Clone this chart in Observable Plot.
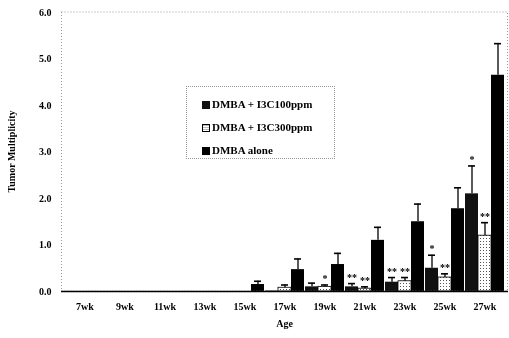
<!DOCTYPE html>
<html>
<head>
<meta charset="utf-8">
<script src="https://cdn.jsdelivr.net/npm/d3@7"></script>
<script src="https://cdn.jsdelivr.net/npm/@observablehq/plot@0.6"></script>
<style>
  html, body { margin: 0; padding: 0; background: #fff; }
  #wrap { position: relative; width: 509px; height: 338px; filter: grayscale(1); }
  .legend { position: absolute; left: 186px; top: 86px; width: 149px; height: 73px;
            border: 1px dotted #999; box-sizing: border-box;
            font-family: "Liberation Serif", serif; font-weight: bold; font-size: 11px; color: #000; }
  .legend .item { position: absolute; left: 15px; height: 12px; line-height: 12px; white-space: nowrap; }
  .legend .sw { display: inline-block; width: 8px; height: 8px; vertical-align: -1px; margin-right: 2px; box-sizing: border-box; }
</style>
</head>
<body>
<div id="wrap"></div>
<script>
// ---- data ----
const weeks    = ["7wk","9wk","11wk","13wk","15wk","17wk","19wk","21wk","23wk","25wk","27wk"];
const seriesNames = ["DMBA + I3C100ppm", "DMBA + I3C300ppm", "DMBA alone"];
const i3c100   = [0, 0, 0, 0, 0, 0.01, 0.10, 0.10, 0.20, 0.50, 2.10];
const err100   = [0, 0, 0, 0, 0, 0,    0.08, 0.07, 0.10, 0.28, 0.60];
const i3c300   = [0, 0, 0, 0, 0, 0.08, 0.10, 0.06, 0.22, 0.30, 1.20];
const err300   = [0, 0, 0, 0, 0, 0.06, 0.04, 0.04, 0.08, 0.08, 0.28];
const alone    = [0, 0, 0, 0, 0.15, 0.47, 0.58, 1.10, 1.50, 1.78, 4.65];
const errAlone = [0, 0, 0, 0, 0.07, 0.23, 0.24, 0.28, 0.38, 0.45, 0.68];
const sig100   = ["", "", "", "", "", "", "",  "**", "**", "*",  "*"];
const sig300   = ["", "", "", "", "", "", "*", "**", "**", "**", "**"];
const sigAlone = ["", "", "", "", "", "", "",  "",   "",   "",   ""];
const yTicks   = [0, 1, 2, 3, 4, 5, 6];
const yTitle   = "Tumor Multiplicity";
const xTitle   = "Age";

// ---- styles ----
const fills   = {"DMBA + I3C100ppm": "#111", "DMBA + I3C300ppm": "url(#stip)", "DMBA alone": "#000"};
const strokes = {"DMBA + I3C100ppm": "none", "DMBA + I3C300ppm": "#000", "DMBA alone": "none"};

const valueSets = [[i3c100, err100, sig100], [i3c300, err300, sig300], [alone, errAlone, sigAlone]];
const rows = [];
weeks.forEach((w, i) => {
  seriesNames.forEach((s, j) => {
    const [v, e, g] = valueSets[j];
    rows.push({week: w, series: s, value: v[i], err: e[i], sig: g[i]});
  });
});

const W = 509, H = 338, mL = 61, mR = 1, mT = 12, mB = 47;

const chart = Plot.plot({
  width: W, height: H,
  marginLeft: mL, marginRight: mR, marginTop: mT, marginBottom: mB,
  style: {fontFamily: "'Liberation Serif', serif", fontSize: "10px", fontWeight: "bold", background: "#fff", color: "#000"},
  facet: {data: rows, x: "week"},
  fx: {domain: weeks, paddingInner: 0.03, paddingOuter: 0, label: null, tickSize: 0, tickPadding: 11},
  x: {domain: seriesNames, padding: 0, axis: null},
  y: {domain: [0, 6], ticks: yTicks, tickFormat: d3.format(".1f"), tickSize: 0, tickPadding: 14, label: null},
  color: {type: "identity"},
  marks: [
    Plot.barY(rows, {x: "series", y: "value", fill: d => fills[d.series], stroke: d => strokes[d.series], strokeWidth: 0.8}),
    Plot.ruleX(rows, {filter: d => d.err > 0, x: "series", y1: "value", y2: d => d.value + d.err, stroke: "#000", strokeWidth: 1.3}),
    Plot.tickY(rows, {filter: d => d.err > 0, x: "series", y: d => d.value + d.err, stroke: "#000", strokeWidth: 1.6, insetLeft: 3, insetRight: 3}),
    Plot.text(rows, {filter: d => d.sig !== "", x: "series", y: d => d.value + d.err, text: "sig", dy: -6,
                     fontSize: 10, fontWeight: "bold", fill: "#000"})
  ]
});

// pattern + frame + axis titles
const svg = d3.select(chart.tagName.toLowerCase() === "svg" ? chart : chart.querySelector("svg"));
const defs = svg.insert("defs", ":first-child");
const pat = defs.append("pattern").attr("id", "stip").attr("patternUnits", "userSpaceOnUse")
  .attr("width", 3).attr("height", 3);
pat.append("rect").attr("width", 3).attr("height", 3).attr("fill", "#fff");
pat.append("rect").attr("x", 1).attr("y", 1).attr("width", 1).attr("height", 1).attr("fill", "#555");

const ys = chart.scale("y");
const yTop = ys.apply(6), yBot = ys.apply(0);
svg.append("rect").attr("x", mL + 0.5).attr("y", yTop).attr("width", W - mL - mR - 1).attr("height", yBot - yTop)
  .attr("fill", "none").attr("stroke", "#999").attr("stroke-dasharray", "1,2");
svg.append("line").attr("x1", mL).attr("x2", W - mR).attr("y1", yBot + 0.5).attr("y2", yBot + 0.5)
  .attr("stroke", "#000").attr("stroke-width", 1.5);
svg.append("text").attr("transform", `translate(15,${(yTop + yBot) / 2}) rotate(-90)`)
  .attr("text-anchor", "middle").attr("font-size", 10).attr("font-weight", "bold").attr("fill", "#000").text(yTitle);
svg.append("text").attr("x", (mL + W - mR) / 2).attr("y", 327)
  .attr("text-anchor", "middle").attr("font-size", 10).attr("font-weight", "bold").attr("fill", "#000").text(xTitle);

const wrap = document.getElementById("wrap");
wrap.appendChild(chart);

// legend (inside plot area, as in the reference)
const leg = document.createElement("div");
leg.className = "legend";
const swStyles = [
  "background:#111;",
  "background: repeating-linear-gradient(0deg,#fff 0 1px,#bbb 1px 2px); border:1px solid #000;",
  "background:#000;"
];
seriesNames.forEach((s, j) => {
  const it = document.createElement("div");
  it.className = "item";
  it.style.top = (11 + j * 23) + "px";
  it.innerHTML = `<span class="sw" style="${swStyles[j]}"></span>${s}`;
  leg.appendChild(it);
});
wrap.appendChild(leg);
</script>
</body>
</html>
